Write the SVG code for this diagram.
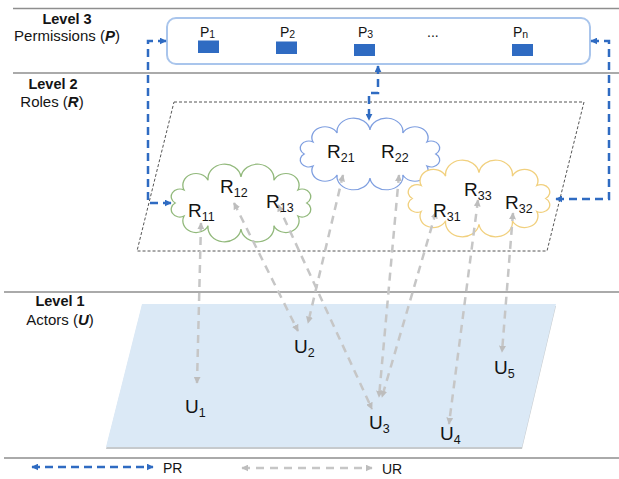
<svg xmlns="http://www.w3.org/2000/svg" width="619" height="479" viewBox="0 0 619 479">
  <style>
    text { font-family: "Liberation Sans", Arial, Helvetica, sans-serif; fill: #141414; }
    .lvl { font-size: 14.5px; font-weight: bold; text-anchor: middle; }
    .desc { font-size: 15px; text-anchor: middle; }
    .var { font-weight: bold; font-style: italic; }
    .rule { stroke: #8e8e8e; stroke-width: 1.5; }
    .node { font-size: 19px; }
    .sub { font-size: 12.5px; }
    .perm { font-size: 14px; }
    .psub { font-size: 10.5px; }
    .pbox { fill: #2f6bc2; }
    .pr { fill: none; stroke: #2f6bc2; stroke-width: 2.5; stroke-dasharray: 8 5; marker-start: url(#pr-head); marker-end: url(#pr-head); }
    .ur { fill: none; stroke: #c6c6c6; stroke-width: 2.5; stroke-dasharray: 8 6; marker-start: url(#ur-head); marker-end: url(#ur-head); }
    .cloud { fill: #ffffff; stroke-width: 1.2; vector-effect: non-scaling-stroke; }
  </style>
  <defs>
    <marker id="pr-head" viewBox="0 0 10 10" refX="9" refY="5" markerWidth="7" markerHeight="7" markerUnits="userSpaceOnUse" orient="auto-start-reverse">
      <path d="M0,0 L10,5 L0,10 z" fill="#2f6bc2"/>
    </marker>
    <marker id="ur-head" viewBox="0 0 10 10" refX="9" refY="5" markerWidth="7" markerHeight="7" markerUnits="userSpaceOnUse" orient="auto-start-reverse">
      <path d="M0,0 L10,5 L0,10 z" fill="#bdbdbd"/>
    </marker>
    <!-- twelve-bump cloud outline, natural bbox x 6.2..133.8, y -1.3..79.3 -->
    <path id="cloud-shape" d="M130,39 A7.86,7.86 0 0 1 121.96,52.5 A12.04,12.04 0 0 1 100,62.38 A15.11,15.11 0 0 1 70,66 A15.11,15.11 0 0 1 40,62.38 A12.04,12.04 0 0 1 18.04,52.5 A7.86,7.86 0 0 1 10,39 A7.86,7.86 0 0 1 18.04,25.5 A12.04,12.04 0 0 1 40,15.62 A15.11,15.11 0 0 1 70,12 A15.11,15.11 0 0 1 100,15.62 A12.04,12.04 0 0 1 121.96,25.5 A7.86,7.86 0 0 1 130,39 Z"/>
  </defs>

  <!-- level separators -->
  <g id="rules">
    <line class="rule" x1="13" y1="8.5" x2="619" y2="8.5"/>
    <line class="rule" x1="13" y1="73" x2="619" y2="73"/>
    <line class="rule" x1="4" y1="292" x2="619" y2="292"/>
    <line class="rule" x1="4" y1="458" x2="619" y2="458"/>
  </g>

  <!-- level captions -->
  <g id="captions">
    <text class="lvl" x="67" y="24">Level 3</text>
    <text class="desc" x="67" y="41">Permissions (<tspan class="var">P</tspan>)</text>
    <text class="lvl" x="53" y="89">Level 2</text>
    <text class="desc" x="52" y="107">Roles (<tspan class="var">R</tspan>)</text>
    <text class="lvl" x="60" y="306">Level 1</text>
    <text class="desc" x="60" y="325">Actors (<tspan class="var">U</tspan>)</text>
  </g>

  <!-- actors plane -->
  <g id="actors-plane">
    <polygon points="142,306 556,306 522,449 106,449" fill="#aeb3b8" opacity="0.7"/>
    <polygon points="142,304 556,304 522,447 106,447" fill="#dbe9f6"/>
  </g>

  <!-- roles plane -->
  <g id="roles-plane">
    <polygon points="174,102 584,102 547,251 137,251" fill="none" stroke="#555" stroke-width="1" stroke-dasharray="3 2"/>
  </g>

  <!-- permissions -->
  <g id="permissions">
    <rect x="167" y="18" width="423" height="46" rx="9" fill="#ffffff" stroke="#a9c5ec" stroke-width="2"/>
    <g id="p1">
      <text class="perm" x="200" y="37">P<tspan class="psub" dy="1">1</tspan></text>
      <rect class="pbox" x="198" y="40.5" width="21" height="12.5"/>
    </g>
    <g id="p2">
      <text class="perm" x="280" y="37">P<tspan class="psub" dy="1">2</tspan></text>
      <rect class="pbox" x="276" y="41.5" width="21" height="12.5"/>
    </g>
    <g id="p3">
      <text class="perm" x="358" y="37">P<tspan class="psub" dy="1">3</tspan></text>
      <rect class="pbox" x="354" y="44" width="21" height="12"/>
    </g>
    <text class="perm" x="427" y="37">...</text>
    <g id="pn">
      <text class="perm" x="513" y="37">P<tspan class="psub" dy="1">n</tspan></text>
      <rect class="pbox" x="512" y="44" width="21" height="12"/>
    </g>
  </g>

  <!-- role groups -->
  <g id="roles-1">
    <use href="#cloud-shape" class="cloud" stroke="#92b97c" transform="translate(164.25,165.26) scale(1.096,0.968)"/>
  </g>
  <g id="roles-2">
    <use href="#cloud-shape" class="cloud" stroke="#7f9fe0" transform="translate(293.25,119.16) scale(1.096,0.893)"/>
  </g>
  <g id="roles-3">
    <use href="#cloud-shape" class="cloud" stroke="#f1d07e" transform="translate(401.15,161.24) scale(1.112,0.955)"/>
  </g>

  <!-- assignment connectors -->
  <g id="connectors">
    <!-- permission-role (PR) -->
    <path class="pr" d="M166,41 H148 V203 H171"/>
    <path class="pr" d="M378,66 V93 H369 V120"/>
    <path class="pr" d="M591,41 H609 V199 H556"/>
    <!-- user-role (UR) -->
    <line class="ur" x1="201" y1="223" x2="197" y2="383"/>
    <line class="ur" x1="234" y1="203" x2="298" y2="331"/>
    <line class="ur" x1="343" y1="175" x2="308" y2="323"/>
    <line class="ur" x1="278" y1="205" x2="372" y2="409"/>
    <line class="ur" x1="399" y1="175" x2="379" y2="397"/>
    <line class="ur" x1="436" y1="212" x2="382" y2="397"/>
    <line class="ur" x1="478" y1="200" x2="449" y2="424"/>
    <line class="ur" x1="513" y1="213" x2="502" y2="352"/>
  </g>

  <!-- role labels -->
  <g id="role-labels">
    <g id="r11"><text class="node" x="188" y="217">R<tspan class="sub" dy="4">11</tspan></text></g>
    <g id="r12"><text class="node" x="220" y="193">R<tspan class="sub" dy="4">12</tspan></text></g>
    <g id="r13"><text class="node" x="266" y="208">R<tspan class="sub" dy="4">13</tspan></text></g>
    <g id="r21"><text class="node" x="327" y="158">R<tspan class="sub" dy="4">21</tspan></text></g>
    <g id="r22"><text class="node" x="381" y="158">R<tspan class="sub" dy="4">22</tspan></text></g>
    <g id="r31"><text class="node" x="433" y="217">R<tspan class="sub" dy="4">31</tspan></text></g>
    <g id="r33"><text class="node" x="464" y="196">R<tspan class="sub" dy="4">33</tspan></text></g>
    <g id="r32"><text class="node" x="505" y="209">R<tspan class="sub" dy="4">32</tspan></text></g>
  </g>

  <!-- actors -->
  <g id="actors">
    <g id="u1"><text class="node" x="185" y="413">U<tspan class="sub" dy="4">1</tspan></text></g>
    <g id="u2"><text class="node" x="294" y="353">U<tspan class="sub" dy="4">2</tspan></text></g>
    <g id="u3"><text class="node" x="369" y="429">U<tspan class="sub" dy="4">3</tspan></text></g>
    <g id="u4"><text class="node" x="440" y="440">U<tspan class="sub" dy="4">4</tspan></text></g>
    <g id="u5"><text class="node" x="494" y="374">U<tspan class="sub" dy="4">5</tspan></text></g>
  </g>

  <!-- legend -->
  <g id="legend">
    <line class="pr" x1="32" y1="467" x2="153" y2="467"/>
    <text x="163" y="472.5" font-size="14">PR</text>
    <line class="ur" x1="242" y1="468" x2="372" y2="468"/>
    <text x="382" y="474" font-size="14">UR</text>
  </g>
</svg>
